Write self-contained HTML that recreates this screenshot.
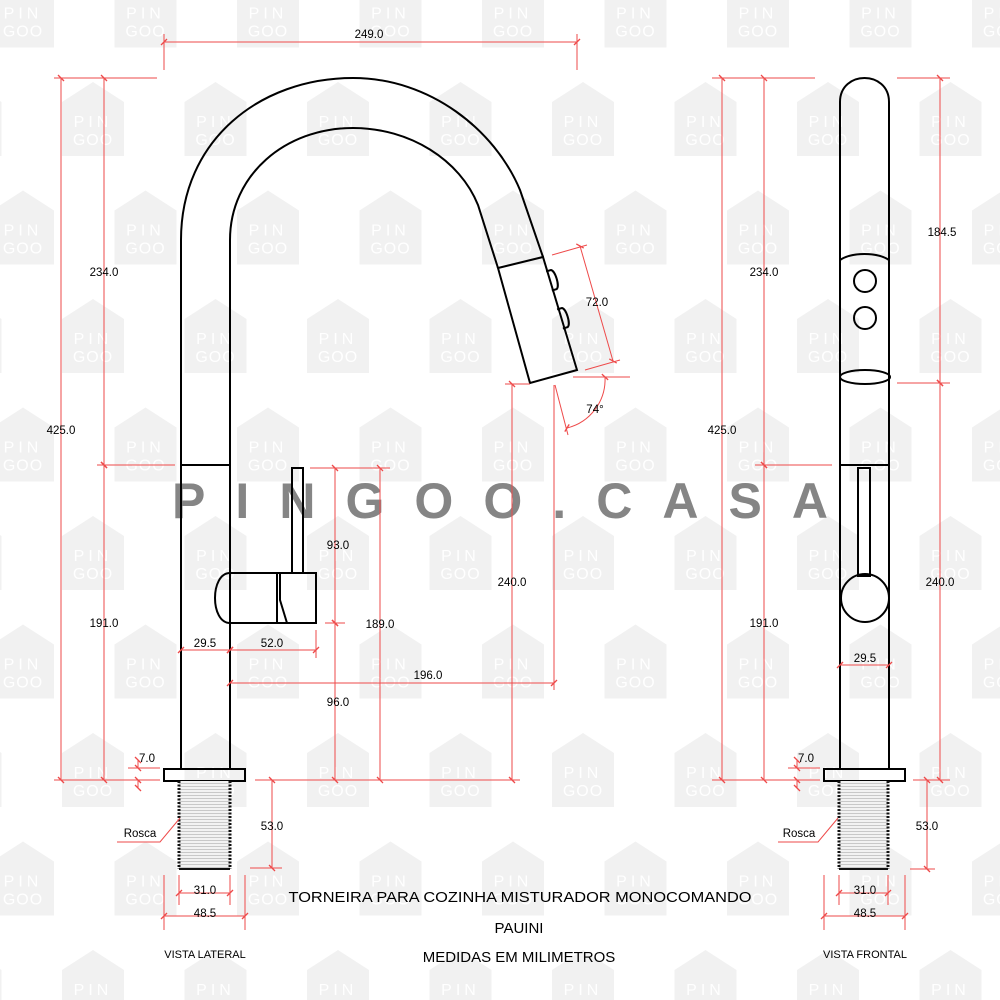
<!DOCTYPE html>
<html><head><meta charset="utf-8"><style>
html,body{margin:0;padding:0;background:#fff}
svg{display:block}
text{font-family:"Liberation Sans",Arial,sans-serif}
.r{stroke:#ee4a4a;stroke-width:1;fill:none}
.d{marker-start:url(#t);marker-end:url(#t)}
.k{stroke:#000;stroke-width:2;fill:none}
.n{font-size:11.5px;fill:#000;text-anchor:middle}
</style></head><body>
<svg width="1000" height="1000" viewBox="0 0 1000 1000" xmlns="http://www.w3.org/2000/svg">
<defs>
<marker id="t" viewBox="-6 -6 12 12" markerWidth="12" markerHeight="12" refX="0" refY="0" orient="auto" markerUnits="userSpaceOnUse">
<path d="M-3,3 L3,-3" stroke="#ee4a4a" stroke-width="1.3"/>
</marker>
<g id="h">
<path d="M0,20 L31,0 L62,20 L62,74 L0,74 Z" fill="#f1f1f1"/>
<text x="31" y="45" text-anchor="middle" font-size="16" fill="#fff" letter-spacing="4">PIN</text>
<text x="31" y="63" text-anchor="middle" font-size="16" fill="#fff" letter-spacing="1">GOO</text>
</g>
<pattern id="wm" x="-8" y="-26.5" width="122.5" height="217" patternUnits="userSpaceOnUse">
<use href="#h" x="0" y="0"/>
<use href="#h" x="70" y="108.5"/>
<use href="#h" x="-52.5" y="108.5"/>
<use href="#h" x="0" y="217"/>
<use href="#h" x="0" y="-217"/>
</pattern>
<pattern id="th" width="10" height="3" patternUnits="userSpaceOnUse">
<rect width="10" height="3" fill="#f2f2f2"/>
<line x1="0" y1="0.5" x2="10" y2="0.5" stroke="#c8c8c8" stroke-width="1"/>
</pattern>
</defs>
<rect width="1000" height="1000" fill="#fff"/>
<rect width="1000" height="1000" fill="url(#wm)"/>

<text x="172" y="518" font-size="50" font-weight="bold" fill="#858585" textLength="656" lengthAdjust="spacing">PINGOO.CASA</text>

<!-- LEFT VIEW -->
<path class="k" d="M181,768 L181,240 C181,140 260,78 353,78 C430,78 495,130 520,190 L543,257"/>
<path class="k" d="M230,768 L230,240 C230,175 285,128 353,128 C410,128 460,160 478,205 L498,268"/>
<path class="k" d="M498,268 L543,257 L577,370 L530,383 Z" fill="#fff"/>
<g transform="translate(549,281) rotate(-16.7)"><path class="k" d="M0,-10 L5,-10 C9,-8 9,8 5,10 L0,10" fill="#fff"/></g>
<g transform="translate(560,319) rotate(-16.7)"><path class="k" d="M0,-10 L5,-10 C9,-8 9,8 5,10 L0,10" fill="#fff"/></g>
<line class="k" x1="181" y1="465" x2="230" y2="465"/>
<rect class="k" x="292" y="468" width="11" height="105" fill="#fff"/>
<path class="k" d="M230,573 L277,573 L277,623 L230,623 C210,623 210,573 230,573 Z" fill="#fff"/>
<path class="k" d="M280,573 L316,573 L316,623 L287,623 L280,600 Z" fill="#fff"/>
<path class="k" d="M277,573 L280,573 M277,623 L287,623" />
<rect class="k" x="164" y="769" width="81" height="12" fill="#fff"/>
<rect x="179" y="781" width="51" height="88" fill="url(#th)"/>
<path d="M179,869 L230,869" stroke="#111" stroke-width="2"/>
<path d="M179,781 l0,88" stroke="#111" stroke-width="3" stroke-dasharray="2 1.5"/>
<path d="M230,781 l0,88" stroke="#111" stroke-width="3" stroke-dasharray="2 1.5"/>

<!-- RIGHT VIEW -->
<path class="k" d="M840,768 L840,102 C840,70 889,70 889,102 L889,768"/>
<path class="k" d="M840,260 C852,252 877,252 889,260"/>
<circle class="k" cx="865" cy="281" r="11"/>
<circle class="k" cx="865" cy="318" r="11"/>
<ellipse class="k" cx="865" cy="377" rx="25" ry="7"/>
<line class="k" x1="840" y1="465" x2="889" y2="465"/>
<rect class="k" x="858" y="468" width="12" height="108" fill="#fff"/>
<circle class="k" cx="865" cy="598" r="24" fill="#fff"/>
<rect class="k" x="824" y="769" width="81" height="12" fill="#fff"/>
<rect x="839" y="781" width="49" height="88" fill="url(#th)"/>
<path d="M839,869 L888,869" stroke="#111" stroke-width="2"/>
<path d="M839,781 l0,88" stroke="#111" stroke-width="3" stroke-dasharray="2 1.5"/>
<path d="M888,781 l0,88" stroke="#111" stroke-width="3" stroke-dasharray="2 1.5"/>

<g class="r">
<line class="d" x1="164" y1="42" x2="577" y2="42"/>
<line x1="164" y1="34" x2="164" y2="70"/>
<line x1="577" y1="34" x2="577" y2="70"/>
<line x1="54" y1="78" x2="157" y2="78"/>
<line class="d" x1="61" y1="78" x2="61" y2="780"/>
<line class="d" x1="104" y1="78" x2="104" y2="465"/>
<line class="d" x1="104" y1="465" x2="104" y2="780"/>
<line x1="97" y1="465" x2="175" y2="465"/>
<line x1="54" y1="780" x2="160" y2="780"/>
<line x1="255" y1="780" x2="520" y2="780"/>
<line x1="310" y1="468" x2="390" y2="468"/>
<line x1="325" y1="623" x2="345" y2="623"/>
<line class="d" x1="335" y1="468" x2="335" y2="623"/>
<line class="d" x1="335" y1="623" x2="335" y2="780"/>
<line class="d" x1="380" y1="468" x2="380" y2="780"/>
<line x1="505" y1="384" x2="530" y2="384"/>
<line class="d" x1="512" y1="384" x2="512" y2="780"/>
<line class="d" x1="181" y1="650" x2="230" y2="650"/>
<line class="d" x1="230" y1="650" x2="316" y2="650"/>
<line x1="316" y1="630" x2="316" y2="658"/>
<line class="d" x1="230" y1="683" x2="554" y2="683"/>
<line x1="554" y1="385" x2="554" y2="690"/>
<line x1="555" y1="385" x2="568" y2="435"/>
<line x1="573" y1="377" x2="630" y2="377"/>
<path class="d" d="M605,377 A50,50 0 0 1 567,428"/>
<line x1="552" y1="255" x2="587" y2="245"/>
<line x1="585" y1="370" x2="620" y2="360"/>
<line class="d" x1="580" y1="246" x2="613" y2="361"/>
<line x1="128" y1="768" x2="160" y2="768"/>
<line class="d" x1="138" y1="760" x2="138" y2="768"/>
<line class="d" x1="138" y1="780" x2="138" y2="788"/>
<line class="d" x1="272" y1="780" x2="272" y2="868"/>
<line x1="250" y1="868" x2="282" y2="868"/>
<line x1="179" y1="875" x2="179" y2="905"/>
<line x1="230" y1="875" x2="230" y2="905"/>
<line class="d" x1="179" y1="893" x2="230" y2="893"/>
<line x1="164" y1="875" x2="164" y2="930"/>
<line x1="245" y1="875" x2="245" y2="930"/>
<line class="d" x1="164" y1="916" x2="245" y2="916"/>
<polyline points="117,842 160,842 180,818"/>
</g>
<g class="n">
<text x="369" y="38">249.0</text>
<text x="104" y="276">234.0</text>
<text x="61" y="434">425.0</text>
<text x="104" y="627">191.0</text>
<text x="338" y="549">93.0</text>
<text x="380" y="628">189.0</text>
<text x="338" y="706">96.0</text>
<text x="512" y="586">240.0</text>
<text x="205" y="647">29.5</text>
<text x="272" y="647">52.0</text>
<text x="428" y="679">196.0</text>
<text x="595" y="413">74°</text>
<text x="597" y="306">72.0</text>
<text x="147" y="762">7.0</text>
<text x="272" y="830">53.0</text>
<text x="205" y="894">31.0</text>
<text x="205" y="917">48.5</text>
<text x="140" y="837">Rosca</text>
<text x="205" y="958" font-size="11">VISTA LATERAL</text>
</g>

<g class="r">
<line x1="712" y1="78" x2="815" y2="78"/>
<line class="d" x1="722" y1="78" x2="722" y2="780"/>
<line class="d" x1="764" y1="78" x2="764" y2="465"/>
<line class="d" x1="764" y1="465" x2="764" y2="780"/>
<line x1="755" y1="465" x2="832" y2="465"/>
<line x1="712" y1="780" x2="820" y2="780"/>
<line x1="897" y1="78" x2="950" y2="78"/>
<line x1="897" y1="383" x2="950" y2="383"/>
<line class="d" x1="940" y1="78" x2="940" y2="383"/>
<line class="d" x1="940" y1="383" x2="940" y2="780"/>
<line x1="913" y1="780" x2="950" y2="780"/>
<line class="d" x1="840" y1="665" x2="889" y2="665"/>
<line x1="788" y1="768" x2="820" y2="768"/>
<line class="d" x1="797" y1="760" x2="797" y2="768"/>
<line class="d" x1="797" y1="780" x2="797" y2="788"/>
<line class="d" x1="927" y1="780" x2="927" y2="869"/>
<line x1="910" y1="869" x2="935" y2="869"/>
<line x1="839" y1="875" x2="839" y2="905"/>
<line x1="888" y1="875" x2="888" y2="905"/>
<line class="d" x1="839" y1="893" x2="888" y2="893"/>
<line x1="824" y1="875" x2="824" y2="930"/>
<line x1="905" y1="875" x2="905" y2="930"/>
<line class="d" x1="824" y1="916" x2="905" y2="916"/>
<polyline points="778,842 818,842 838,818"/>
</g>
<g class="n">
<text x="722" y="434">425.0</text>
<text x="764" y="276">234.0</text>
<text x="764" y="627">191.0</text>
<text x="942" y="236">184.5</text>
<text x="940" y="586">240.0</text>
<text x="865" y="662">29.5</text>
<text x="806" y="762">7.0</text>
<text x="927" y="830">53.0</text>
<text x="865" y="894">31.0</text>
<text x="865" y="917">48.5</text>
<text x="799" y="837">Rosca</text>
<text x="865" y="958" font-size="11">VISTA FRONTAL</text>
</g>

<g fill="#000" text-anchor="middle" font-size="15">
<text x="520" y="902" textLength="463" lengthAdjust="spacingAndGlyphs">TORNEIRA PARA COZINHA MISTURADOR MONOCOMANDO</text>
<text x="519" y="933">PAUINI</text>
<text x="519" y="962">MEDIDAS EM MILIMETROS</text>
</g>
</svg>
</body></html>
